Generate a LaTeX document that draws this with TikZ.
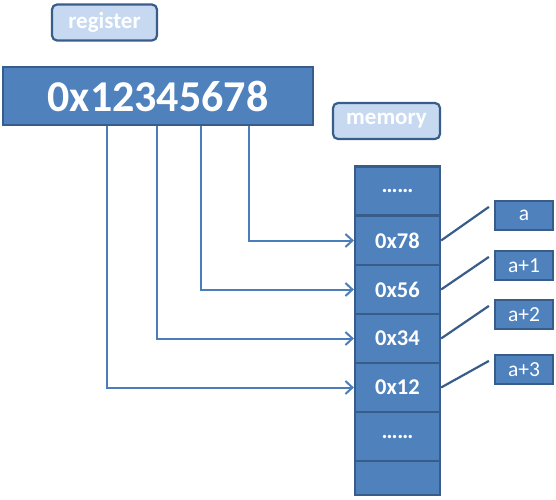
\documentclass[tikz,border=0pt]{standalone}
\usepackage{fontspec}
\setmainfont{Carlito}
\usepackage{tikz}
\usetikzlibrary{arrows.meta,positioning}

\definecolor{cellblue}{HTML}{4F81BD}
\definecolor{edgeblue}{HTML}{385D8A}
\definecolor{tagblue}{HTML}{C6D9F1}
\definecolor{wireblue}{HTML}{4A7EBB}

\begin{document}
\begin{tikzpicture}[x=1pt,y=-1pt,
    every node/.style={inner sep=0pt, text=white},
    tagbox/.style={draw=edgeblue, line width=2.2pt, fill=tagblue, rounded corners=5pt,
        minimum width=105pt, minimum height=36pt, font=\fontsize{23}{23}\selectfont\bfseries},
    regbox/.style={draw=edgeblue, line width=2.2pt, fill=cellblue,
        minimum width=310pt, minimum height=58pt, font=\fontsize{44}{44}\selectfont\bfseries},
    memcell/.style={draw=edgeblue, line width=2.2pt, fill=cellblue,
        minimum width=85pt, minimum height=49pt, font=\fontsize{22.5}{22.5}\selectfont\bfseries},
    adrbox/.style={draw=edgeblue, line width=2.2pt, fill=cellblue,
        minimum width=58pt, minimum height=29pt, font=\fontsize{21.5}{21.5}\selectfont},
    ptr/.style={wireblue, line width=2pt, -{Straight Barb[length=7pt,width=13pt,line width=2pt]}},
    link/.style={edgeblue, line width=2.2pt}]

\useasboundingbox (0,0) rectangle (556,499);

% register
\node[tagbox] (regtag) at (104.5,22.5) {register};
\node[regbox] (reg) at (158,96) {0x12345678};

% memory column
\node[tagbox, minimum width=107pt] (memtag) at (386.5,121) {memory};
\node[memcell] (mtop) at (397.5,191) {……};
\node[memcell] (m78) at (397.5,240.5) {0x78};
\node[memcell] (m56) at (397.5,289.5) {0x56};
\node[memcell] (m34) at (397.5,338.5) {0x34};
\node[memcell] (m12) at (397.5,387.5) {0x12};
\node[memcell] (mdots) at (397.5,436.5) {……};
\node[memcell, minimum height=34pt] (mend) at (397.5,478) {};

% addresses
\node[adrbox] (adr0) at (524,215.5) {a};
\node[adrbox] (adr1) at (524,265.5) {a+1};
\node[adrbox] (adr2) at (524,314.5) {a+2};
\node[adrbox] (adr3) at (524,369.5) {a+3};

% byte taps on the register
\coordinate (tap12) at ([xshift=105pt]reg.south west);
\coordinate (tap34) at ([xshift=155pt]reg.south west);
\coordinate (tap56) at ([xshift=199pt]reg.south west);
\coordinate (tap78) at ([xshift=247pt]reg.south west);

\draw[ptr] (tap78) |- (m78.west);
\draw[ptr] (tap56) |- (m56.west);
\draw[ptr] (tap34) |- (m34.west);
\draw[ptr] (tap12) |- (m12.west);

% cell to address
\draw[link] (m78.east) -- ([shift={(-5pt,-7pt)}]adr0.north west);
\draw[link] (m56.east) -- ([shift={(-5pt,-7pt)}]adr1.north west);
\draw[link] (m34.east) -- ([shift={(-5pt,-7pt)}]adr2.north west);
\draw[link] (m12.east) -- ([shift={(-5pt,-7pt)}]adr3.north west);

\end{tikzpicture}
\end{document}
